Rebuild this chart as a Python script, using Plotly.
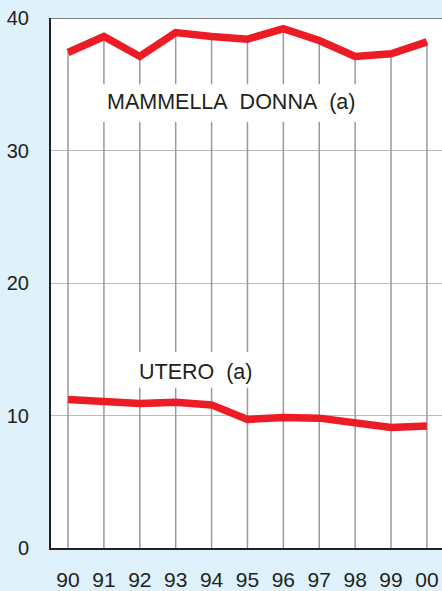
import plotly.graph_objects as go

years = ["90", "91", "92", "93", "94", "95", "96", "97", "98", "99", "00"]
mammella = [37.4, 38.6, 37.1, 38.9, 38.6, 38.4, 39.2, 38.3, 37.1, 37.3, 38.2]
utero = [11.2, 11.1, 10.9, 11.0, 10.8, 9.7, 9.85, 9.8, 9.5, 9.1, 9.2]
label_mammella = "MAMMELLA\u00a0 DONNA\u00a0 (a)"
label_utero = "UTERO\u00a0 (a)"
y_ticks = [0, 10, 20, 30, 40]

idx = list(range(len(years)))

# vertical drop lines from 0 to the upper series
vx, vy = [], []
for i, v in zip(idx, mammella):
    vx += [i, i, None]
    vy += [0, v, None]

red = "#ED1C24"
fig = go.Figure()
fig.add_trace(go.Scatter(x=vx, y=vy, mode="lines",
                         line=dict(color="#9A9A9A", width=1.5),
                         hoverinfo="skip", showlegend=False))
fig.add_trace(go.Scatter(x=idx, y=mammella, mode="lines",
                         line=dict(color=red, width=7.5), showlegend=False))
fig.add_trace(go.Scatter(x=idx, y=utero, mode="lines",
                         line=dict(color=red, width=7.5), showlegend=False))

# white boxes behind labels
fig.add_shape(type="rect", x0=0.33, x1=8.2, y0=32.15, y1=35.0,
              fillcolor="white", line_width=0, layer="above")
fig.add_shape(type="rect", x0=1.75, x1=5.3, y0=12.1, y1=14.8,
              fillcolor="white", line_width=0, layer="above")
# top border
fig.add_shape(type="line", xref="paper", x0=0, x1=1, y0=40, y1=40,
              line=dict(color="#555555", width=1.5), layer="above")

fig.add_annotation(x=4.55, y=33.66, text=label_mammella, showarrow=False,
                   font=dict(family="Liberation Sans, Arial", size=21.5, color="#231F20"))
fig.add_annotation(x=3.54, y=13.3, text=label_utero, showarrow=False,
                   font=dict(family="Liberation Sans, Arial", size=21.5, color="#231F20"))

fig.update_layout(
    width=442, height=591,
    margin=dict(l=51, r=0, t=18, b=43),
    paper_bgcolor="#DFF1FB",
    plot_bgcolor="white",
    font=dict(family="Liberation Sans, Arial", color="#231F20"),
    xaxis=dict(range=[-0.474, 10.42], tickmode="array", tickvals=idx, ticktext=years,
               showgrid=False, zeroline=False, showline=True, linecolor="#231F20",
               linewidth=2, ticks="", tickfont=dict(size=21), ticklabelstandoff=12,
               fixedrange=True),
    yaxis=dict(range=[0, 40], tickmode="array", tickvals=y_ticks,
               showgrid=True, gridcolor="#BBBBBB", gridwidth=1.2, zeroline=False,
               showline=True, linecolor="#231F20", linewidth=2, ticks="",
               tickfont=dict(size=20), ticklabelstandoff=16, fixedrange=True),
)

fig.write_html("out.html", config={"displayModeBar": False},
               post_script="document.body.style.margin='0';document.body.style.overflow='hidden';")
